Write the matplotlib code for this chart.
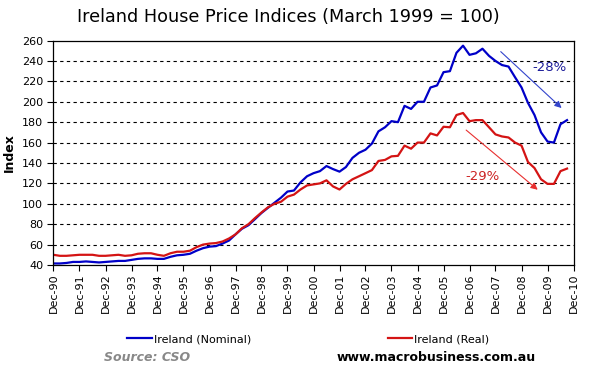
import matplotlib
matplotlib.use('Agg')
import matplotlib.pyplot as plt
import pandas as pd

# quarterly index values, Dec-90 .. Sep-10 (March 1999 = 100)
nominal = [41.5, 41.5, 42, 43, 43, 43.5, 43, 42.5, 43, 43.5, 44, 44,
           45, 46, 46.5, 46.5, 46, 46, 48, 49.5, 50, 51, 54, 56.5,
           58, 58.5, 61, 64, 70, 75.5, 79, 85, 91, 96, 101, 106,
           112, 113, 121, 127, 130, 132, 137, 134, 131.5, 136, 145, 150,
           153, 159, 171, 175, 181, 180, 196, 193, 200, 200, 214, 216,
           229, 230, 248, 255, 246, 247.5, 252, 245, 240, 236, 234.5, 224,
           214, 199, 187, 170, 161, 160, 178, 182]
real = [50, 49, 49, 49.5, 50, 50, 50, 49, 49, 49.5, 50, 49,
        49.5, 51, 51.5, 51.5, 50, 49, 51.5, 53, 53, 54, 57.5, 60,
        61, 61.5, 63, 66, 70, 76, 80, 86, 91.5, 96.5, 100, 102,
        107, 109, 114, 118, 119, 120, 123, 117, 114, 119.5, 124, 127,
        130, 133, 142, 143, 146.5, 147, 157, 154, 160, 160, 169, 167,
        175.5, 175, 187, 189, 181, 182, 182, 175, 168, 166, 165, 160,
        157, 141, 135, 124, 119.5, 119.5, 132, 134.5]
dates = pd.date_range('1990-12-01', periods=len(nominal), freq='3MS')
tick_dates = pd.date_range('1990-12-01', '2010-12-01', freq='12MS')
tick_labels = [d.strftime('Dec-%y') for d in tick_dates]

blue = '#0000C8'
red = '#D41414'

plt.rcParams['font.family'] = ['DejaVu Sans']
fig = plt.figure(figsize=(5.89, 3.79), dpi=100)
ax = fig.add_axes([0.0908, 0.3008, 0.8829, 0.5922])

ax.plot(dates, nominal, color=blue, lw=1.6, label='Ireland (Nominal)')
ax.plot(dates, real, color=red, lw=1.6, label='Ireland (Real)')

ax.set_xlim(tick_dates[0], tick_dates[-1])
ax.set_ylim(40, 260)
ax.set_yticks(range(40, 261, 20))
ax.set_xticks(tick_dates)
ax.set_xticklabels(tick_labels, rotation=90, fontsize=8)
ax.tick_params(axis='y', labelsize=8, length=4, width=0.8)
ax.tick_params(axis='x', length=4, width=0.8, pad=2)
for v in range(60, 260, 20):
    ax.axhline(v, color='black', lw=0.8, dashes=(3, 3), zorder=0)
for s in ax.spines.values():
    s.set_linewidth(0.9)

ax.set_ylabel('Index', fontsize=9, fontweight='bold', labelpad=4)

# decline arrows
ax.annotate('', xy=(pd.Timestamp('2010-07-15'), 192), xytext=(pd.Timestamp('2008-01-15'), 251),
            arrowprops=dict(arrowstyle='-|>', color='#3344CC', lw=0.8, mutation_scale=10))
ax.annotate('', xy=(pd.Timestamp('2009-08-15'), 112), xytext=(pd.Timestamp('2006-09-15'), 174),
            arrowprops=dict(arrowstyle='-|>', color='#E83030', lw=0.8, mutation_scale=10))
ax.text(pd.Timestamp('2010-01-01'), 234, '-28%', color='#1A1A99', fontsize=9.5,
        ha='center', va='center')
ax.text(pd.Timestamp('2007-06-01'), 127, '-29%', color='#CC2222', fontsize=9.5,
        ha='center', va='center')

fig.text(0.49, 0.955, 'Ireland House Price Indices (March 1999 = 100)',
         ha='center', va='center', fontsize=12.7)

ax.legend(loc='center', bbox_to_anchor=(0.49, -0.33), ncol=2, frameon=False,
          fontsize=8, handlelength=2.2, handletextpad=0.2, columnspacing=12.3)

fig.text(0.25, 0.057, 'Source: CSO', color='#888888', fontsize=9,
         style='italic', fontweight='bold', ha='center', va='center')
fig.text(0.74, 0.057, 'www.macrobusiness.com.au', color='black', fontsize=9,
         fontweight='bold', ha='center', va='center')

fig.savefig('out.png', dpi=100)
